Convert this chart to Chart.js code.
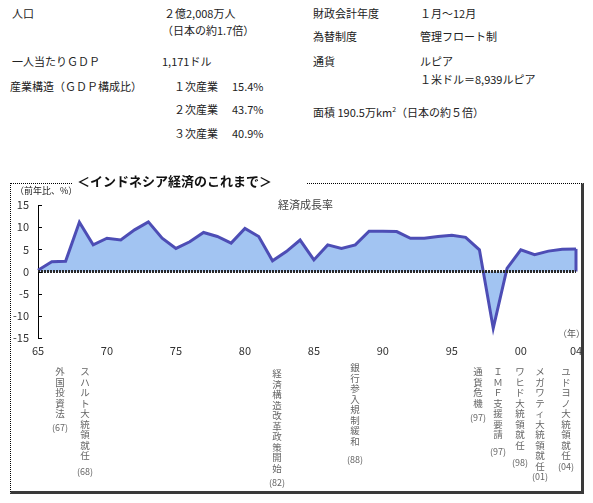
<!DOCTYPE html>
<html>
<head>
<meta charset="utf-8">
<script src="https://cdn.jsdelivr.net/npm/chart.js@4.4.0/dist/chart.umd.min.js"></script>
<style>
  body { margin: 0; background: #fff; }
  #wrap { position: relative; width: 593px; height: 503px; overflow: hidden;
          font-family: "Noto Sans CJK JP", "Noto Sans", sans-serif; color: #222; }
  .t { position: absolute; font-size: 11px; line-height: 14px; white-space: nowrap; }
  #frame { position: absolute; left: 10px; top: 183px; width: 570px; height: 307px;
           border-left: 1px dotted #000; border-top: 1px dotted #000;
           border-right: 3px solid #3a3a3a; border-bottom: 3px solid #3a3a3a; }
  #title { position: absolute; left: 73px; top: 172px; width: 230px; padding-left: 4px;
           background: #fff; font-size: 13px; font-weight: bold; line-height: 18px; color: #111; }
  canvas { position: absolute; left: 0; top: 0; }
  .v { position: absolute; width: 14px; text-align: center;
       font-size: 9.5px; line-height: 10.5px; color: #666; }
  .v span { display: block; }
  .p { position: absolute; font-size: 9px; line-height: 12px; color: #666; transform: translateX(-50%); }
</style>
</head>
<body>
<div id="wrap">
  <div class="t" style="left:12px;top:6px">人口</div>
  <div class="t" style="left:164px;top:6px">２億2,008万人</div>
  <div class="t" style="left:162px;top:23px">（日本の約1.7倍）</div>
  <div class="t" style="left:12px;top:54px">一人当たりＧＤＰ</div>
  <div class="t" style="left:162px;top:54px">1,171ドル</div>
  <div class="t" style="left:10px;top:79px">産業構造（ＧＤＰ構成比）</div>
  <div class="t" style="left:174px;top:79px">１次産業</div>
  <div class="t" style="left:232px;top:79px">15.4%</div>
  <div class="t" style="left:174px;top:102px">２次産業</div>
  <div class="t" style="left:232px;top:102px">43.7%</div>
  <div class="t" style="left:174px;top:126px">３次産業</div>
  <div class="t" style="left:232px;top:126px">40.9%</div>

  <div class="t" style="left:313px;top:6px">財政会計年度</div>
  <div class="t" style="left:420px;top:6px">１月～12月</div>
  <div class="t" style="left:313px;top:29px">為替制度</div>
  <div class="t" style="left:420px;top:29px">管理フロート制</div>
  <div class="t" style="left:313px;top:54px">通貨</div>
  <div class="t" style="left:420px;top:54px">ルピア</div>
  <div class="t" style="left:420px;top:72px">１米ドル＝8,939ルピア</div>
  <div class="t" style="left:313px;top:102px">面積 190.5万km<sup style="font-size:7px">2</sup>（日本の約５倍）</div>

  <div id="frame"></div>
  <canvas id="myChart" width="593" height="503"></canvas>
  <div id="title">＜インドネシア経済のこれまで＞</div>
  <div class="t" style="left:15px;top:184px;font-size:9px">（前年比、%）</div>
  <div class="t" style="left:278px;top:197px;color:#444">経済成長率</div>
  <div class="t" style="left:558px;top:327px;font-size:9px;color:#555">（年）</div>
  <div id="notes"></div>
</div>

<script>
const years = ['1965', '1966', '1967', '1968', '1969', '1970', '1971', '1972', '1973', '1974',
    '1975', '1976', '1977', '1978', '1979', '1980', '1981', '1982', '1983', '1984',
    '1985', '1986', '1987', '1988', '1989', '1990', '1991', '1992', '1993', '1994',
    '1995', '1996', '1997', '1998', '1999', '2000', '2001', '2002', '2003', '2004'];

const growth = [0.3, 2.2, 2.3, 11.1, 6.0, 7.5, 7.1, 9.4, 11.2, 7.5,
    5.2, 6.7, 8.8, 7.9, 6.4, 9.7, 7.9, 2.4, 4.5, 7.1,
    2.6, 6.0, 5.2, 6.0, 9.1, 9.1, 9.0, 7.5, 7.5, 7.9,
    8.2, 7.7, 4.9, -12.8, 0.7, 4.9, 3.8, 4.6, 5.0, 5.1];

const tickYears = ['1965', '1970', '1975', '1980', '1985', '1990', '1995', '2000', '2004'];
const tickLabels = ['65', '70', '75', '80', '85', '90', '95', '00', '04'];

const yTicks = [15, 10, 5, 0, -5, -10, -15];

const eventTexts = ['外国投資法', 'スハルト大統領就任', '経済構造改革政策開始', '銀行参入規制緩和',
    '通貨危機', 'ＩＭＦ支援要請', 'ワヒド大統領就任', 'メガワティ大統領就任', 'ユドヨノ大統領就任'];
const eventYears = ['(67)', '(68)', '(82)', '(88)', '(97)', '(97)', '(98)', '(01)', '(04)'];

// placement of the notes under the chart (x centre, top of text, y of year)
const noteX = [60, 85, 277, 355, 478, 498, 520, 540, 566];
const noteTop = [366, 366, 368, 362, 366, 366, 366, 366, 366];
const noteYearY = [422, 466, 477, 454, 412, 446, 457, 471, 461];

let notes = document.getElementById('notes');
for (let i = 0; i < eventTexts.length; i++) {
    let v = document.createElement('div');
    v.className = 'v';
    for (let ch of eventTexts[i]) {
        let s = document.createElement('span');
        s.textContent = ch;
        v.appendChild(s);
    }
    v.style.left = (noteX[i] - 7) + 'px';
    v.style.top = noteTop[i] + 'px';
    notes.appendChild(v);

    let p = document.createElement('div');
    p.className = 'p';
    p.textContent = eventYears[i];
    p.style.left = noteX[i] + 'px';
    p.style.top = noteYearY[i] + 'px';
    notes.appendChild(p);
}

// zero line, inward y ticks and right edge of the area
const extras = {
    id: 'extras',
    afterDatasetsDraw(chart) {
        const ctx = chart.ctx;
        const x = chart.scales.x;
        const y = chart.scales.y;
        const y0 = y.getPixelForValue(0);
        ctx.save();

        let last = growth.length - 1;
        ctx.strokeStyle = '#4d4db5';
        ctx.lineWidth = 3;
        ctx.beginPath();
        ctx.moveTo(x.getPixelForValue(last), y.getPixelForValue(growth[last]));
        ctx.lineTo(x.getPixelForValue(last), y0);
        ctx.stroke();

        ctx.strokeStyle = '#2a2a2a';
        ctx.lineWidth = 3;
        ctx.setLineDash([2, 1]);
        ctx.beginPath();
        ctx.moveTo(chart.chartArea.left, y0);
        ctx.lineTo(x.getPixelForValue(last), y0);
        ctx.stroke();
        ctx.setLineDash([]);

        ctx.strokeStyle = '#000';
        ctx.lineWidth = 1;
        yTicks.forEach(function(t) {
            let py = Math.round(y.getPixelForValue(t)) + 0.5;
            ctx.beginPath();
            ctx.moveTo(chart.chartArea.left, py);
            ctx.lineTo(chart.chartArea.left + 4, py);
            ctx.stroke();
        });
        ctx.restore();
    }
};

const ctx = document.getElementById('myChart');
const myChart = new Chart(ctx, {
    type: 'line',
    data: {
        labels: years,
        datasets: [{
            label: '経済成長率',
            data: growth,
            borderColor: '#4d4db5',
            borderWidth: 3,
            backgroundColor: '#a2c4f2',
            fill: 'origin',
            pointRadius: 0,
            tension: 0
        }]
    },
    options: {
        responsive: false,
        animation: false,
        layout: {
            padding: { left: 0, right: 17, top: 205, bottom: 141 }
        },
        plugins: {
            legend: { display: false },
            tooltip: { enabled: false }
        },
        scales: {
            x: {
                grid: { display: false, drawTicks: false },
                border: { display: false },
                ticks: {
                    autoSkip: false,
                    maxRotation: 0,
                    padding: 6,
                    color: '#333',
                    font: { family: 'Noto Sans CJK JP', size: 11 },
                    callback: function(value, index) {
                        let k = tickYears.indexOf(years[index]);
                        return k >= 0 ? tickLabels[k] : '';
                    }
                },
                afterFit: function(scale) { scale.height = 24; }
            },
            y: {
                min: -15,
                max: 15,
                grid: { display: false, drawTicks: false },
                border: { display: true, color: '#000', width: 1 },
                ticks: {
                    stepSize: 5,
                    padding: 9,
                    color: '#333',
                    font: { family: 'Noto Sans CJK JP', size: 11 }
                },
                afterFit: function(scale) { scale.width = 38; }
            }
        }
    },
    plugins: [extras]
});
</script>
</body>
</html>
